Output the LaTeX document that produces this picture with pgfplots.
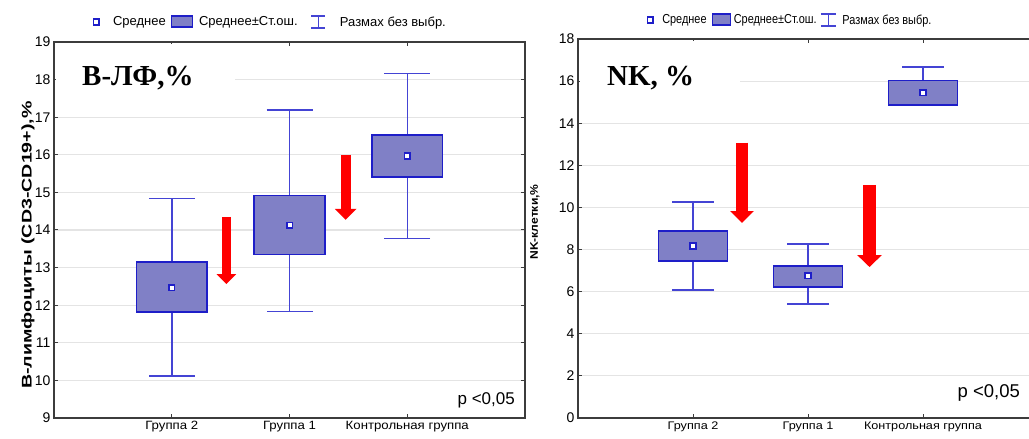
\documentclass[border=0pt]{standalone}
\usepackage{fontspec}
\setmainfont{Liberation Sans}
\newfontfamily\titlefont{Liberation Serif}
\newfontfamily\condfont[FakeStretch=0.84]{Liberation Sans}
\newfontfamily\ylabfont[FakeStretch=1.4]{Liberation Sans}
\newfontfamily\ylabfontR[FakeStretch=1.1]{Liberation Sans}
\newfontfamily\xlabfont[FakeStretch=1.1]{Liberation Sans}
\newfontfamily\xlabfontR[FakeStretch=1.15]{Liberation Sans}
\usepackage{pgfplots}
\pgfplotsset{compat=1.18}
\usetikzlibrary{arrows.meta}

\definecolor{boxfill}{RGB}{128,128,198}
\definecolor{boxedge}{RGB}{30,30,200}
\definecolor{whisk}{RGB}{68,68,212}
\definecolor{framec}{RGB}{60,60,60}
\definecolor{gridc}{RGB}{228,228,228}
\definecolor{arrowred}{RGB}{255,0,0}

\pgfplotsset{
  panel/.style={
    scale only axis, xmin=0, xmax=4,
    xtick={1,2,3},
    ymajorgrids, major grid style={gridc, line width=1.2pt},
    axis line style={framec, line width=1.5pt},
    tick style={framec, line width=1pt},
    major tick length=4pt, tick align=inside,
    /pgf/number format/assume math mode=true,
    yticklabel style={font=\fontsize{14}{16}\selectfont},
  },
  meanmk/.style={forget plot, only marks, mark=square*, mark size=2.8pt,
      mark options={fill=white, draw=boxedge, line width=1.6pt}},
  boxst/.style={forget plot, draw=boxedge, fill=boxfill, line width=1.6pt},
  whiskst/.style={forget plot, only marks, mark=none, whisk,
      error bars/.cd, y dir=both, y explicit,
      error bar style={whisk, line width=1.5pt},
      error mark options={whisk, line width=1.6pt, mark size=#1, rotate=90}},
}

\begin{document}
\begin{tikzpicture}
\useasboundingbox (0pt,0pt) rectangle (1029pt,439pt);

% ---------------- Left panel ----------------
\begin{axis}[panel,
  at={(54pt,21pt)}, anchor=south west, width=471pt, height=376pt,
  ymin=9, ymax=19, ytick={9,10,...,19},
  xticklabels={Группа 2, Группа 1, Контрольная группа},
  xticklabel style={font=\xlabfont\fontsize{12}{14}\selectfont},
  ylabel={В-лимфоциты (CD3-CD19+),\%},
  ylabel style={font=\ylabfont\bfseries\fontsize{14}{16}\selectfont, at={(axis description cs:-0.0552,0.46)}, anchor=center},
  legend style={at={(axis description cs:0.46,1.053)}, anchor=center, draw=none, fill=none,
    legend columns=3, font=\fontsize{13}{15}\selectfont,
    /tikz/column 1/.style={column sep=12pt},
    /tikz/column 2/.style={column sep=3pt},
    /tikz/column 3/.style={column sep=4pt},
    /tikz/column 4/.style={column sep=11pt},
    /tikz/column 5/.style={column sep=12pt}},
]
\fill[white] (axis description cs:0.004,0.846) rectangle (axis description cs:0.384,0.995);
\addlegendimage{only marks, mark=square*, mark size=2.8pt, mark options={fill=white, draw=boxedge, line width=1.6pt}}
\addlegendimage{legend image code/.code={\draw[fill=boxfill, draw=boxedge, line width=1.2pt] (0pt,-5pt) rectangle (21pt,6pt);}}
\addlegendimage{legend image code/.code={\draw[whisk, line width=1.2pt] (0pt,6pt) -- (14pt,6pt) (7pt,6pt) -- (7pt,-6pt) (0pt,-6pt) -- (14pt,-6pt);}}
% whiskers: mean, +(upper whisker - mean), -(mean - lower whisker)
\addplot[whiskst=23pt] coordinates {
  (1,12.47) += (0,2.37) -= (0,2.35)
  (2,14.12) += (0,3.07) -= (0,2.29)
  (3,15.97) += (0,2.19) -= (0,2.20)
};
% boxes: mean +/- standard error
\addplot[boxst] coordinates {(0.7,11.82) (1.3,11.82) (1.3,13.15) (0.7,13.15)} --cycle;
\addplot[boxst] coordinates {(1.7,13.35) (2.3,13.35) (2.3,14.92) (1.7,14.92)} --cycle;
\addplot[boxst] coordinates {(2.7,15.41) (3.3,15.41) (3.3,16.53) (2.7,16.53)} --cycle;
\addplot[meanmk] coordinates {(1,12.47) (2,14.12) (3,15.97)};
\addplot[forget plot, arrowred, line width=9pt, -{Triangle[width=19pt,length=10pt]}] coordinates {(1.464,14.35) (1.464,12.56)};
\addplot[forget plot, arrowred, line width=10pt, -{Triangle[width=21pt,length=11pt]}] coordinates {(2.477,16.0) (2.477,14.27)};
\node[anchor=base west, font=\titlefont\bfseries\fontsize{29}{33}\selectfont, inner sep=0pt] at (axis description cs:0.0594,0.8856) {В-ЛФ,\%};
\node[anchor=base east, font=\fontsize{17}{19}\selectfont, inner sep=0pt] at (axis description cs:0.9788,0.0346) {p <0,05};
\legend{Среднее, Среднее±Ст.ош., Размах без выбр.}
\end{axis}

% ---------------- Right panel ----------------
\begin{scope}
\clip (0pt,0pt) rectangle (1029pt,439pt);
\begin{axis}[panel,
  at={(578pt,21pt)}, anchor=south west, width=460pt, height=379pt,
  ymin=0, ymax=18, ytick={0,2,...,18},
  xticklabels={Группа 2, Группа 1, Контрольная группа},
  xticklabel style={font=\xlabfontR\fontsize{11}{13}\selectfont},
  ylabel={NK-клетки,\%},
  ylabel style={font=\ylabfontR\bfseries\fontsize{11}{13}\selectfont, at={(axis description cs:-0.0935,0.517)}, anchor=center},
  legend style={at={(axis description cs:0.462,1.050)}, anchor=center, draw=none, fill=none,
    legend columns=3, font=\condfont\fontsize{13}{15}\selectfont,
    /tikz/column 1/.style={column sep=7pt},
    /tikz/column 2/.style={column sep=3pt},
    /tikz/column 3/.style={column sep=1pt},
    /tikz/column 4/.style={column sep=1.5pt},
    /tikz/column 5/.style={column sep=4pt}},
]
\fill[white] (axis description cs:0.004,0.826) rectangle (axis description cs:0.352,0.995);
\addlegendimage{only marks, mark=square*, mark size=2.8pt, mark options={fill=white, draw=boxedge, line width=1.6pt}}
\addlegendimage{legend image code/.code={\draw[fill=boxfill, draw=boxedge, line width=1.2pt] (0pt,-5pt) rectangle (18pt,6pt);}}
\addlegendimage{legend image code/.code={\draw[whisk, line width=1.2pt] (0pt,6pt) -- (15pt,6pt) (7.5pt,6pt) -- (7.5pt,-6pt) (0pt,-6pt) -- (15pt,-6pt);}}
\addplot[whiskst=21pt] coordinates {
  (1,8.17) += (0,2.09) -= (0,2.09)
  (2,6.75) += (0,1.52) -= (0,1.33)
  (3,15.44) += (0,1.24) -= (0,0.57)
};
\addplot[boxst] coordinates {(0.7,7.46) (1.3,7.46) (1.3,8.88) (0.7,8.88)} --cycle;
\addplot[boxst] coordinates {(1.7,6.22) (2.3,6.22) (2.3,7.22) (1.7,7.22)} --cycle;
\addplot[boxst] coordinates {(2.7,14.87) (3.3,14.87) (3.3,16.03) (2.7,16.03)} --cycle;
\addplot[meanmk] coordinates {(1,8.17) (2,6.75) (3,15.44)};
\addplot[forget plot, arrowred, line width=12pt, -{Triangle[width=23pt,length=12pt]}] coordinates {(1.426,13.08) (1.426,9.26)};
\addplot[forget plot, arrowred, line width=13pt, -{Triangle[width=24pt,length=12pt]}] coordinates {(2.535,11.07) (2.535,7.17)};
\node[anchor=base west, font=\titlefont\bfseries\fontsize{29}{33}\selectfont, inner sep=0pt] at (axis description cs:0.063,0.8786) {NK, \%};
\node[anchor=base east, font=\fontsize{18.5}{21}\selectfont, inner sep=0pt] at (axis description cs:0.961,0.053) {p <0,05};
\legend{Среднее, Среднее±Ст.ош., Размах без выбр.}
\end{axis}
\end{scope}
\end{tikzpicture}
\end{document}
